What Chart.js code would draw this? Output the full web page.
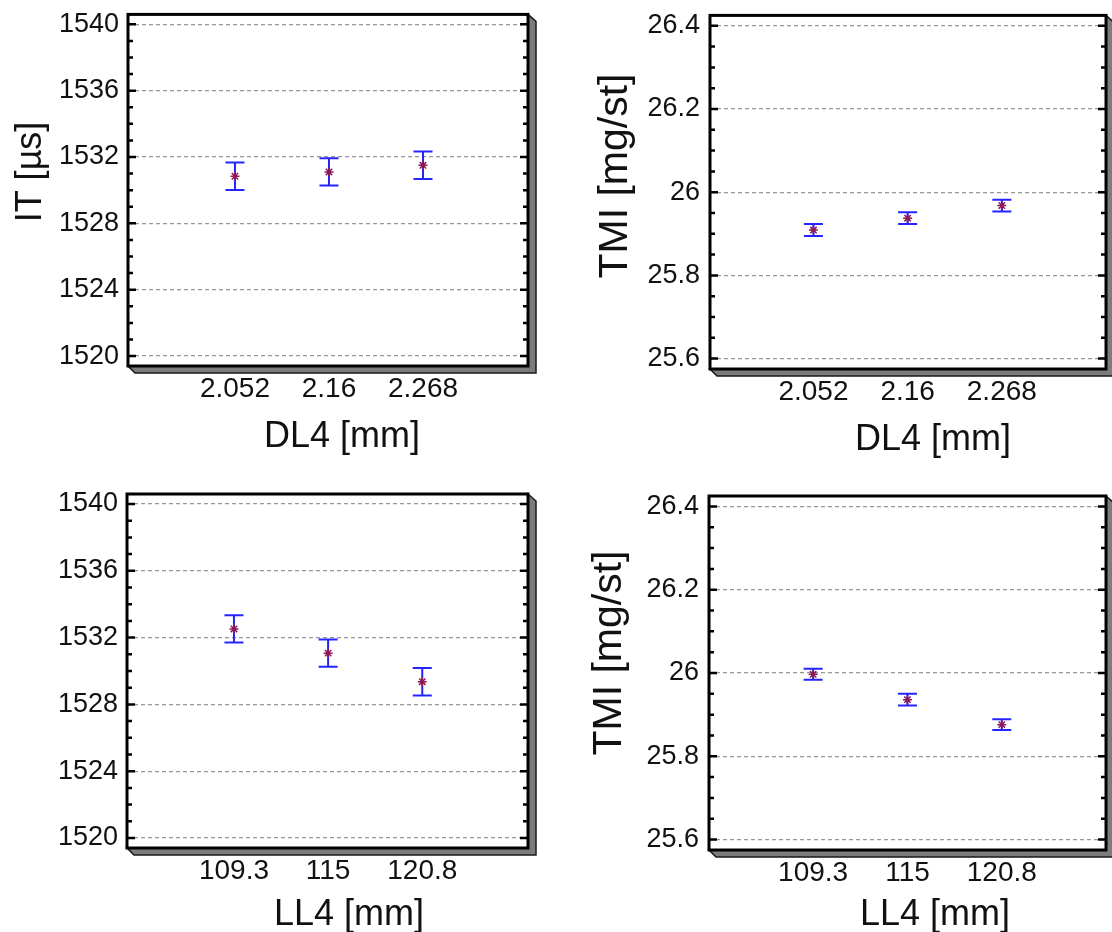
<!DOCTYPE html>
<html>
<head>
<meta charset="utf-8">
<title>IT and TMI vs DL4 / LL4</title>
<script src="https://cdn.jsdelivr.net/npm/chart.js@4.4.1/dist/chart.umd.min.js"></script>
<style>
  html, body { margin: 0; padding: 0; background: #fff; }
  #wrap { position: relative; width: 1112px; height: 932px; overflow: hidden; }
  #wrap canvas { position: absolute; }
</style>
</head>
<body>
<div id="wrap">
  <canvas id="itDl4" width="556" height="466" style="left:0;top:0"></canvas>
  <canvas id="tmiDl4" width="556" height="466" style="left:556px;top:0"></canvas>
  <canvas id="itLl4" width="556" height="466" style="left:0;top:466px"></canvas>
  <canvas id="tmiLl4" width="556" height="466" style="left:556px;top:466px"></canvas>
</div>
<script>
// x categories (evenly spaced in the plot)
const dl4Labels = ['2.052', '2.16', '2.268'];
const ll4Labels = ['109.3', '115', '120.8'];

// means and half-widths of the error bars
const itVsDl4 = [1530.84, 1531.1, 1531.5];
const itVsDl4Err = [0.83, 0.82, 0.83];
const tmiVsDl4 = [25.909, 25.9375, 25.968];
const tmiVsDl4Err = [0.0144, 0.0142, 0.0141];
const itVsLl4 = [1532.52, 1531.07, 1529.36];
const itVsLl4Err = [0.82, 0.81, 0.82];
const tmiVsLl4 = [25.997, 25.936, 25.876];
const tmiVsLl4Err = [0.013, 0.014, 0.013];

// y tick labels
const itTicks = [1520, 1524, 1528, 1532, 1536, 1540];
const tmiTicks = [25.6, 25.8, 26, 26.2, 26.4];

const FONT = '"Liberation Sans", Arial, sans-serif';
const TEXT = '#111';

// blue error bars with caps, drawn under the markers
const errorBarPlugin = {
    id: 'errorBars',
    beforeDatasetsDraw(chart) {
        const ctx = chart.ctx;
        const y = chart.scales.y;
        const ds = chart.data.datasets[0];
        const meta = chart.getDatasetMeta(0);
        ctx.save();
        ctx.strokeStyle = '#2424ff';
        ctx.lineWidth = 2;
        meta.data.forEach((pt, i) => {
            const v = ds.data[i].y;
            const e = ds.errors[i];
            const top = y.getPixelForValue(v + e);
            const bot = y.getPixelForValue(v - e);
            ctx.beginPath();
            ctx.moveTo(pt.x, top); ctx.lineTo(pt.x, bot);
            ctx.moveTo(pt.x - 9.5, top); ctx.lineTo(pt.x + 9.5, top);
            ctx.moveTo(pt.x - 9.5, bot); ctx.lineTo(pt.x + 9.5, bot);
            ctx.stroke();
        });
        ctx.restore();
    }
};

// box with 3D shadow, inward ticks on both sides, axis titles
const framePlugin = {
    id: 'frame',
    afterDraw(chart, args, opts) {
        const ctx = chart.ctx;
        const a = chart.chartArea;
        const y = chart.scales.y;
        ctx.save();

        // shadow (right and bottom faces)
        ctx.beginPath();
        ctx.moveTo(a.right, a.top);
        ctx.lineTo(a.right + 8, a.top + 7);
        ctx.lineTo(a.right + 8, a.bottom + 7);
        ctx.lineTo(a.left + 7, a.bottom + 7);
        ctx.lineTo(a.left, a.bottom);
        ctx.lineTo(a.right, a.bottom);
        ctx.closePath();
        ctx.fillStyle = '#7c7c7c';
        ctx.fill();
        ctx.strokeStyle = '#1a1a1a';
        ctx.lineWidth = 1.5;
        ctx.stroke();

        // ticks
        ctx.strokeStyle = '#000';
        ctx.lineWidth = 2.5;
        const kMin = Math.ceil(y.min / opts.minorStep - 1e-6);
        const kMax = Math.floor(y.max / opts.minorStep + 1e-6);
        for (let k = kMin; k <= kMax; k++) {
            const v = k * opts.minorStep;
            const r = v / opts.majorStep;
            const len = Math.abs(r - Math.round(r)) < 1e-6 ? 8 : 5;
            const py = y.getPixelForValue(v);
            ctx.beginPath();
            ctx.moveTo(a.left, py); ctx.lineTo(a.left + len, py);
            ctx.moveTo(a.right, py); ctx.lineTo(a.right - len, py);
            ctx.stroke();
        }

        // frame
        ctx.lineWidth = 3;
        ctx.strokeRect(a.left, a.top, a.right - a.left, a.bottom - a.top);

        // axis titles
        ctx.fillStyle = TEXT;
        ctx.textAlign = 'center';
        ctx.textBaseline = 'middle';
        ctx.font = '36px ' + FONT;
        ctx.fillText(opts.xTitle, opts.xTitleAt[0], opts.xTitleAt[1]);
        ctx.font = opts.yTitleSize + 'px ' + FONT;
        ctx.translate(opts.yTitleAt[0], opts.yTitleAt[1]);
        ctx.rotate(-Math.PI / 2);
        ctx.fillText(opts.yTitle, 0, 0);
        ctx.restore();
    }
};

function fmt(v) {
    return String(+v.toFixed(2));
}

function makeChart(id, p) {
    const points = p.values.map((v, i) => ({ x: i, y: v }));
    return new Chart(document.getElementById(id), {
        type: 'scatter',
        data: {
            datasets: [{
                data: points,
                errors: p.errors,
                pointStyle: 'star',
                pointRadius: 4.5,
                borderColor: '#8e1a55',
                borderWidth: 1.5,
                backgroundColor: '#8e1a55'
            }, {
                data: points,
                pointStyle: 'circle',
                pointRadius: 2,
                borderWidth: 0,
                backgroundColor: '#240a6e'
            }]
        },
        options: {
            responsive: false,
            animation: false,
            devicePixelRatio: 1,
            layout: { padding: { top: p.padTop, right: p.padRight, left: 0, bottom: 0 } },
            plugins: {
                legend: { display: false },
                tooltip: { enabled: false },
                frame: {
                    minorStep: p.minorStep,
                    majorStep: p.majorStep,
                    xTitle: p.xTitle,
                    yTitle: p.yTitle,
                    yTitleSize: p.yTitleSize,
                    xTitleAt: p.xTitleAt,
                    yTitleAt: p.yTitleAt
                }
            },
            scales: {
                x: {
                    type: 'linear',
                    min: p.xMin,
                    max: p.xMax,
                    grid: { display: false, drawTicks: false },
                    border: { display: false },
                    afterBuildTicks: s => { s.ticks = p.labels.map((l, i) => ({ value: i })); },
                    afterFit: s => { s.height = p.xHeight; },
                    ticks: {
                        padding: 6,
                        color: TEXT,
                        font: { family: FONT, size: 28 },
                        maxRotation: 0,
                        callback: v => p.labels[v]
                    }
                },
                y: {
                    min: p.yMin,
                    max: p.yMax,
                    afterBuildTicks: s => { s.ticks = p.yTicks.map(v => ({ value: v })); },
                    afterFit: s => { s.width = p.yWidth; },
                    grid: { drawTicks: false, color: '#969696', lineWidth: 1.2 },
                    border: { display: false, dash: [4, 3] },
                    ticks: {
                        padding: p.yTickPad,
                        color: TEXT,
                        font: { family: FONT, size: 27, lineHeight: 0.4 },
                        callback: v => fmt(v)
                    }
                }
            }
        },
        plugins: [errorBarPlugin, framePlugin]
    });
}

makeChart('itDl4', {
    labels: dl4Labels, values: itVsDl4, errors: itVsDl4Err, yTicks: itTicks,
    yMin: 1519.4, yMax: 1540.6, minorStep: 1, majorStep: 4,
    xMin: -1.138, xMax: 3.117,
    padTop: 14, padRight: 28, yWidth: 128, xHeight: 100, yTickPad: 9,
    xTitle: 'DL4 [mm]', yTitle: 'IT [µs]', yTitleSize: 36, xTitleAt: [342, 437], yTitleAt: [31, 172]
});

makeChart('tmiDl4', {
    labels: dl4Labels, values: tmiVsDl4, errors: tmiVsDl4Err, yTicks: tmiTicks,
    yMin: 25.575, yMax: 26.425, minorStep: 0.05, majorStep: 0.2,
    xMin: -1.098, xMax: 3.106,
    padTop: 15, padRight: 4, yWidth: 154, xHeight: 97, yTickPad: 10,
    xTitle: 'DL4 [mm]', yTitle: 'TMI [mg/st]', yTitleSize: 41, xTitleAt: [377, 440], yTitleAt: [60, 176]
});

makeChart('itLl4', {
    labels: ll4Labels, values: itVsLl4, errors: itVsLl4Err, yTicks: itTicks,
    yMin: 1519.4, yMax: 1540.6, minorStep: 1, majorStep: 4,
    xMin: -1.136, xMax: 3.123,
    padTop: 28, padRight: 28, yWidth: 127, xHeight: 84, yTickPad: 9,
    xTitle: 'LL4 [mm]', yTitle: 'IT [µs]', yTitleSize: 36, xTitleAt: [349, 449], yTitleAt: [31, 658]
});

makeChart('tmiLl4', {
    labels: ll4Labels, values: tmiVsLl4, errors: tmiVsLl4Err, yTicks: tmiTicks,
    yMin: 25.575, yMax: 26.425, minorStep: 0.05, majorStep: 0.2,
    xMin: -1.104, xMax: 3.105,
    padTop: 30, padRight: 4, yWidth: 153, xHeight: 82, yTickPad: 10,
    xTitle: 'LL4 [mm]', yTitle: 'TMI [mg/st]', yTitleSize: 41, xTitleAt: [379, 449], yTitleAt: [54, 187]
});
</script>
</body>
</html>
